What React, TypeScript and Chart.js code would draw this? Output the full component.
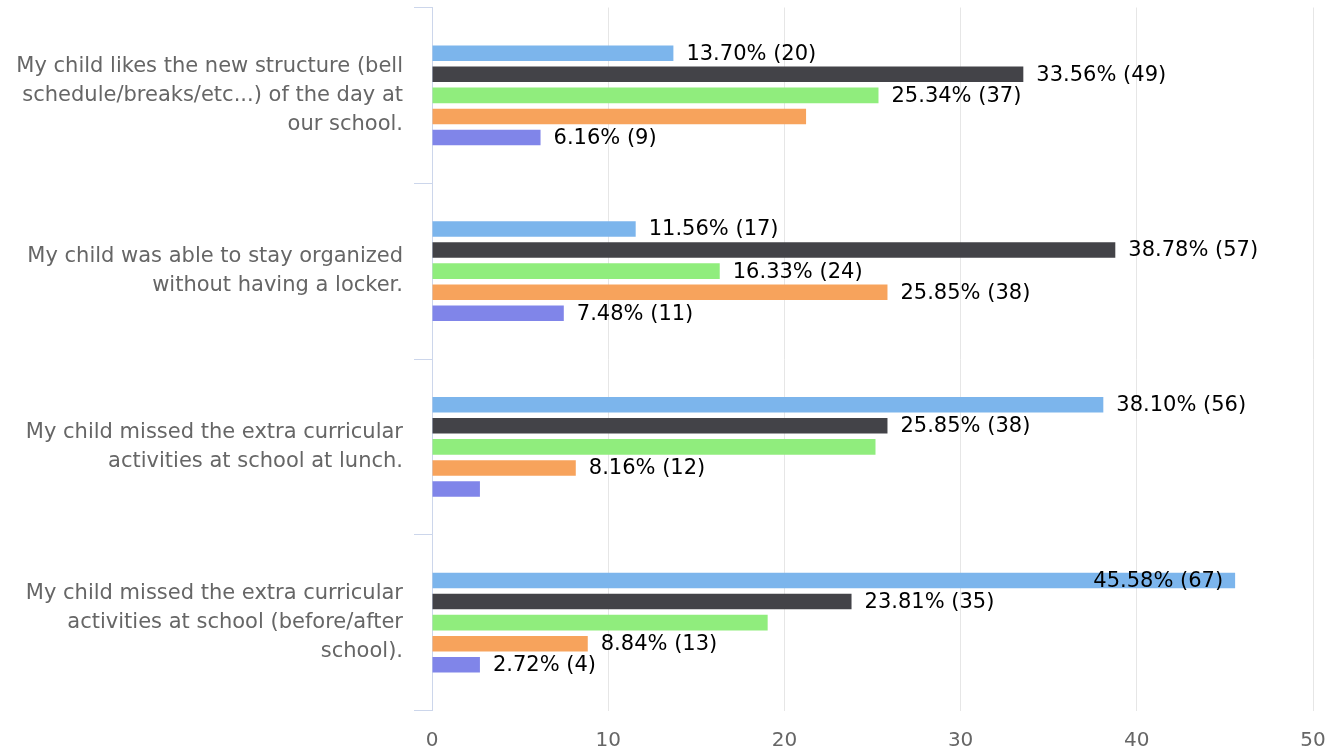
import React, { useEffect, useRef } from "react";
import { Chart, registerables } from "chart.js";

Chart.register(...registerables);

const categories: string[][] = [
  ["My child likes the new structure (bell", "schedule/breaks/etc...) of the day at", "our school."],
  ["My child was able to stay organized", "without having a locker."],
  ["My child missed the extra curricular", "activities at school at lunch."],
  ["My child missed the extra curricular", "activities at school (before/after", "school)."],
];

const seriesNames = ["Strongly Agree", "Agree", "Neutral", "Disagree", "Strongly Disagree"];
const seriesColors = ["#7cb5ec", "#434348", "#90ed7d", "#f7a35c", "#8085e9"];

const pctStronglyAgree = [13.7, 11.56, 38.1, 45.58];
const pctAgree = [33.56, 38.78, 25.85, 23.81];
const pctNeutral = [25.34, 16.33, 25.17, 19.05];
const pctDisagree = [21.23, 25.85, 8.16, 8.84];
const pctStronglyDisagree = [6.16, 7.48, 2.72, 2.72];

const cntStronglyAgree = [20, 17, 56, 67];
const cntAgree = [49, 57, 38, 35];
const cntNeutral = [37, 24, 37, 28];
const cntDisagree = [31, 38, 12, 13];
const cntStronglyDisagree = [9, 11, 4, 4];

// which data labels are visible (others hidden by overlap in the original)
const showStronglyAgree = [true, true, true, true];
const showAgree = [true, true, true, true];
const showNeutral = [true, true, false, false];
const showDisagree = [false, true, true, true];
const showStronglyDisagree = [true, true, false, true];

const xTicks = [0, 10, 20, 30, 40, 50];

const pctSeries = [pctStronglyAgree, pctAgree, pctNeutral, pctDisagree, pctStronglyDisagree];
const cntSeries = [cntStronglyAgree, cntAgree, cntNeutral, cntDisagree, cntStronglyDisagree];
const showSeries = [showStronglyAgree, showAgree, showNeutral, showDisagree, showStronglyDisagree];

const FONT = "'DejaVu Sans', sans-serif";

const dataLabelPlugin = {
  id: "dataLabelPlugin",
  afterDatasetsDraw(chart: any) {
    const ctx = chart.ctx;
    const area = chart.chartArea;
    ctx.save();
    ctx.font = `21px ${FONT}`;
    ctx.fillStyle = "#000000";
    ctx.textBaseline = "middle";
    chart.data.datasets.forEach((ds: any, di: number) => {
      const meta = chart.getDatasetMeta(di);
      meta.data.forEach((bar: any, i: number) => {
        if (!showSeries[di][i]) return;
        const text = `${pctSeries[di][i].toFixed(2)}% (${cntSeries[di][i]})`;
        const w = ctx.measureText(text).width;
        let x = bar.x + 13;
        if (x + w > area.right) {
          ctx.textAlign = "right";
          x = bar.x - 12;
        } else {
          ctx.textAlign = "left";
        }
        ctx.fillText(text, x, bar.y + 1);
      });
    });
    ctx.restore();
  },
};

export default function App() {
  const canvasRef = useRef<HTMLCanvasElement | null>(null);

  useEffect(() => {
    document.body.style.margin = "0";
    const canvas = canvasRef.current;
    if (!canvas) return;
    const chart = new Chart(canvas, {
      type: "bar",
      data: {
        labels: categories as any,
        datasets: seriesNames.map((name, i) => ({
          label: name,
          data: pctSeries[i],
          backgroundColor: seriesColors[i],
          borderWidth: 0,
          barPercentage: 0.74,
          categoryPercentage: 0.6,
        })),
      },
      options: {
        indexAxis: "y",
        responsive: false,
        animation: false,
        devicePixelRatio: 1,
        layout: { padding: { top: 7.5, right: 12, bottom: 0, left: 0 } },
        plugins: {
          legend: { display: false },
          tooltip: { enabled: false },
          title: { display: false },
        },
        scales: {
          x: {
            min: 0,
            max: 50,
            afterBuildTicks: (scale: any) => {
              scale.ticks = xTicks.map((v) => ({ value: v }));
            },
            afterFit: (scale: any) => {
              scale.paddingLeft = 0;
              scale.paddingRight = 0;
              scale.height = 43.5;
            },
            grid: { color: "#e6e6e6", lineWidth: 1, drawTicks: false },
            border: { display: false },
            ticks: {
              color: "#666666",
              font: { family: FONT, size: 20 },
              padding: 18,
              maxRotation: 0,
            },
          },
          y: {
            afterFit: (scale: any) => {
              scale.width = 432;
              scale.paddingTop = 0;
              scale.paddingBottom = 0;
            },
            grid: {
              drawOnChartArea: false,
              drawTicks: true,
              tickLength: 18,
              color: "#ccd6eb",
              offset: true,
            },
            border: { display: true, color: "#ccd6eb", width: 1 },
            ticks: {
              color: "#666666",
              font: { family: FONT, size: 21, lineHeight: 1.38 },
              padding: 11,
              autoSkip: false,
            },
          },
        },
      },
      plugins: [dataLabelPlugin],
    } as any);
    return () => chart.destroy();
  }, []);

  return (
    <div style={{ position: "absolute", left: 0, top: 0, width: 1325, height: 754, background: "#fff" }}>
      <canvas ref={canvasRef} width={1325} height={754} />
    </div>
  );
}
